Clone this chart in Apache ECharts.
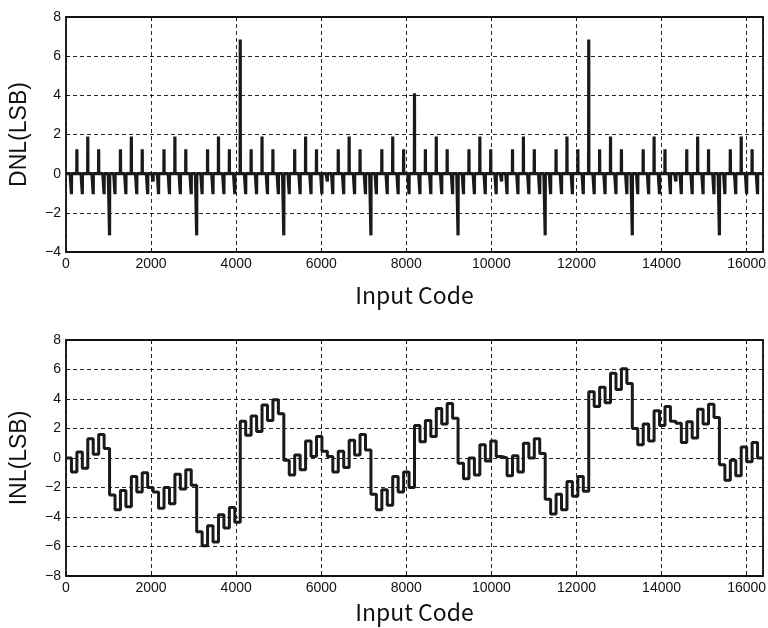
<!DOCTYPE html>
<html>
<head>
    <meta charset="utf-8">
    <title>DNL / INL</title>
    <script src="https://cdn.jsdelivr.net/npm/echarts@6/dist/echarts.min.js"></script>
    <style>
        html, body { margin: 0; padding: 0; background: #fff; }
    </style>
</head>
<body>
<div id="main" style="width: 768px;height:628px;"></div>
<script>
    // one value every 128 codes (16 blocks of 1024 codes, 8 steps each)
    var dnlSteps = [
        [0, -1.05, 1.25, -1.05, 1.9, -1.05, 1.25, -1.05],
        [-3.15, -1.05, 1.25, -1.05, 1.9, -1.05, 1.25, -1.05],
        [-0.4, -1.05, 1.25, -1.05, 1.9, -1.05, 1.25, -1.05],
        [-3.15, -1.05, 1.25, -1.05, 1.9, -1.05, 1.25, -1.05],
        [6.85, -1.05, 1.25, -1.05, 1.9, -1.05, 1.25, -1.05],
        [-3.15, -1.05, 1.25, -1.05, 1.9, -1.05, 1.25, -1.05],
        [-0.4, -1.05, 1.25, -1.05, 1.9, -1.05, 1.25, -1.05],
        [-3.15, -1.05, 1.25, -1.05, 1.9, -1.05, 1.25, -1.05],
        [4.1, -1.05, 1.25, -1.05, 1.9, -1.05, 1.25, -1.05],
        [-3.15, -1.05, 1.25, -1.05, 1.9, -1.05, 1.25, -1.05],
        [-0.4, -1.05, 1.25, -1.05, 1.9, -1.05, 1.25, -1.05],
        [-3.15, -1.05, 1.25, -1.05, 1.9, -1.05, 1.25, -1.05],
        [6.85, -1.05, 1.25, -1.05, 1.9, -1.05, 1.25, -1.05],
        [-3.15, -1.05, 1.25, -1.05, 1.9, -1.05, 1.25, -1.05],
        [-0.4, -1.05, 1.25, -1.05, 1.9, -1.05, 1.25, -1.05],
        [-3.15, -1.05, 1.25, -1.05, 1.9, -1.05, 1.25, -1.05]
    ];

    var inlSteps = [
        [0.0, -0.95, 0.4, -0.7, 1.3, 0.25, 1.6, 0.65],
        [-2.5, -3.5, -2.2, -3.3, -1.25, -2.3, -1.0, -2.0],
        [-2.3, -3.4, -2.0, -3.1, -1.1, -2.1, -0.8, -1.85],
        [-5.0, -5.95, -4.6, -5.7, -3.85, -4.75, -3.35, -4.35],
        [2.5, 1.55, 2.85, 1.8, 3.6, 2.55, 3.95, 3.0],
        [-0.15, -1.15, 0.2, -0.8, 1.15, 0.1, 1.45, 0.45],
        [0.1, -0.95, 0.45, -0.65, 1.2, 0.2, 1.6, 0.55],
        [-2.45, -3.5, -2.15, -3.2, -1.25, -2.3, -0.95, -2.0],
        [2.2, 1.1, 2.55, 1.45, 3.35, 2.3, 3.7, 2.7],
        [-0.35, -1.4, 0.0, -1.15, 0.9, -0.2, 1.15, 0.1],
        [0.0, -1.2, 0.15, -0.95, 1.0, 0.0, 1.3, 0.3],
        [-2.8, -3.8, -2.45, -3.5, -1.6, -2.6, -1.25, -2.25],
        [4.5, 3.5, 4.8, 3.75, 5.75, 4.65, 6.05, 5.05],
        [2.0, 0.9, 2.3, 1.15, 3.2, 2.2, 3.5, 2.5],
        [2.35, 1.05, 2.45, 1.35, 3.3, 2.3, 3.65, 2.75],
        [-0.45, -1.5, -0.15, -1.2, 0.75, -0.25, 1.05, 0.0]
    ];

    var stepCodes = 128;
    var lastCode = 16383;
    var xTicks = [0, 2000, 4000, 6000, 8000, 10000, 12000, 14000, 16000];

    // DNL: flat line at 0 with a spike at each 128-code step
    var dnlData = [[0, 0]];
    dnlSteps.forEach(function (row, b) {
        row.forEach(function (v, j) {
            var c = (b * 8 + j) * stepCodes;
            if (v === 0) return;
            if (v < 0) {
                dnlData.push([c - 30, 0], [c, v], [c + 3, 0]);
            } else {
                dnlData.push([c - 3, 0], [c, v], [c + 3, 0]);
            }
        });
    });
    dnlData.push([lastCode, 0]);

    // INL: step line, level held for 128 codes
    var inlData = [];
    inlSteps.forEach(function (row, b) {
        row.forEach(function (v, j) {
            inlData.push([(b * 8 + j) * stepCodes, v]);
        });
    });
    inlData.push([lastCode, inlSteps[15][7]]);

    var minus = function (v) { return String(v).replace('-', '\u2212'); };
    var tickFont = { color: '#111', fontSize: 14, fontFamily: 'Liberation Sans' };
    var gridLine = { show: true, lineStyle: { color: '#111', width: 0.9, type: [4, 3] } };
    var axisLine = { show: true, onZero: false, lineStyle: { color: '#111', width: 1.8 } };
    var tick = { show: true, inside: true, length: 4, lineStyle: { color: '#111', width: 1 } };

    function xAxes(idx, gap) {
        return [{
            type: 'value', gridIndex: idx, min: 0, max: 16384, interval: 2000,
            axisLine: axisLine, axisTick: tick, splitLine: gridLine,
            axisLabel: Object.assign({ margin: 5, showMaxLabel: false,
                formatter: function (v) { return xTicks.indexOf(v) >= 0 ? String(v) : ''; } }, tickFont),
            name: 'Input Code', nameLocation: 'middle', nameGap: gap,
            nameTextStyle: { fontSize: 23, color: '#111', fontFamily: 'Noto Sans CJK JP' }
        }, {
            type: 'value', gridIndex: idx, position: 'top', min: 0, max: 16384, interval: 2000,
            axisLine: axisLine, axisTick: tick, splitLine: { show: false }, axisLabel: { show: false }
        }];
    }

    function yAxes(idx, lo, name) {
        return [{
            type: 'value', gridIndex: idx, min: lo, max: 8, interval: 2,
            axisLine: axisLine, axisTick: tick, splitLine: gridLine,
            axisLabel: Object.assign({ margin: 5, formatter: minus }, tickFont),
            name: name, nameLocation: 'middle', nameGap: 35,
            nameTextStyle: { fontSize: 23, color: '#111', fontFamily: 'Liberation Sans' }
        }, {
            type: 'value', gridIndex: idx, position: 'right', min: lo, max: 8, interval: 2,
            axisLine: axisLine, axisTick: tick, splitLine: { show: false }, axisLabel: { show: false }
        }];
    }

    var myChart = echarts.init(document.getElementById('main'), null, { renderer: 'canvas' });
    myChart.setOption({
        animation: false,
        backgroundColor: '#fff',
        grid: [
            { left: 66, right: 5, top: 17, height: 235, outerBoundsMode: 'none' },
            { left: 66, right: 5, top: 340, height: 236, outerBoundsMode: 'none' }
        ],
        xAxis: xAxes(0, 32).concat(xAxes(1, 25)),
        yAxis: yAxes(0, -4, 'DNL(LSB)').concat(yAxes(1, -8, 'INL(LSB)')),
        series: [{
            name: 'DNL',
            type: 'line',
            xAxisIndex: 0, yAxisIndex: 0,
            data: dnlData,
            showSymbol: false,
            lineStyle: { color: '#1a1a1a', width: 3.2 }
        }, {
            name: 'INL',
            type: 'line',
            xAxisIndex: 2, yAxisIndex: 2,
            step: 'end',
            data: inlData,
            showSymbol: false,
            lineStyle: { color: '#1a1a1a', width: 3 }
        }]
    });
</script>
</body>
</html>
